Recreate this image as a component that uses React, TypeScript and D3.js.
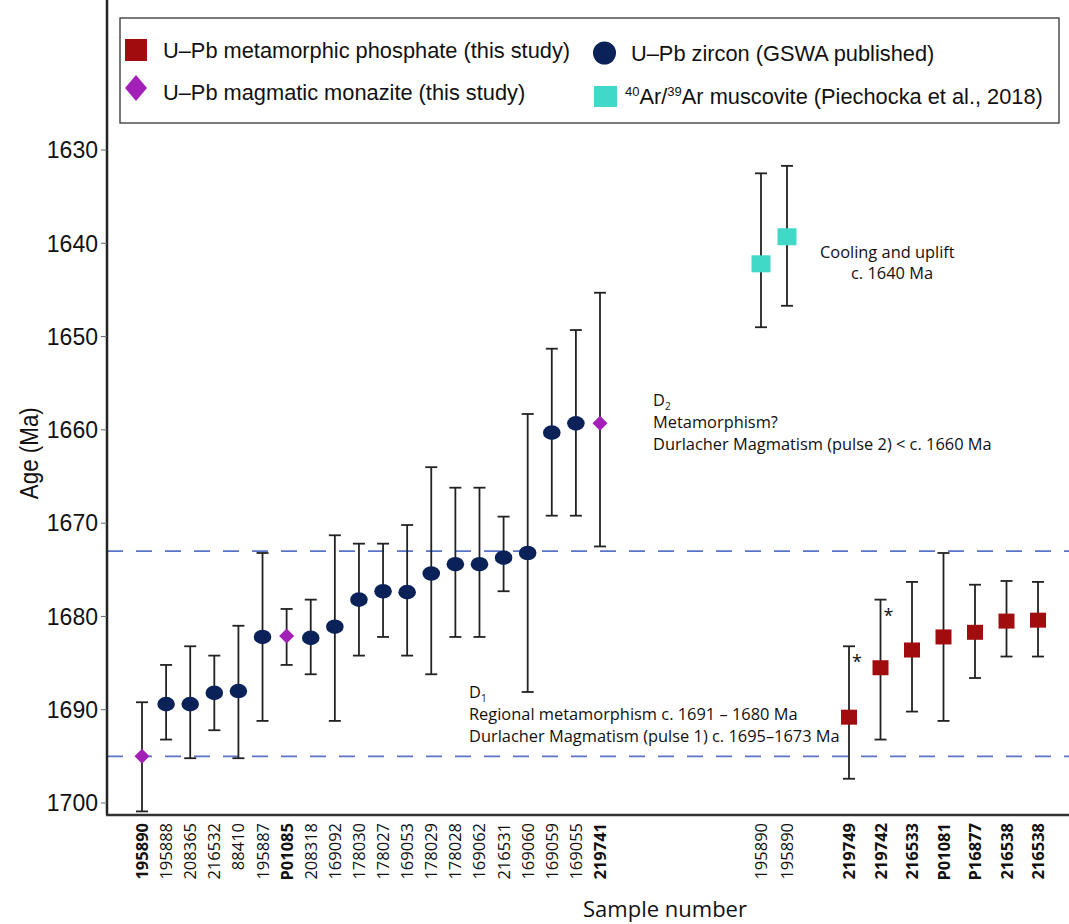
import React, { useEffect, useRef } from 'react';
import * as d3 from 'd3';

// Samples along the x axis, left group (U-Pb zircon + magmatic monazite)
const group1Samples = [
  '195890', '195888', '208365', '216532', '88410', '195887', 'P01085', '208318',
  '169092', '178030', '178027', '169053', '178029', '178028', '169062', '216531',
  '169060', '169059', '169055', '219741'
];
const group1Types = [
  'monazite', 'zircon', 'zircon', 'zircon', 'zircon', 'zircon', 'monazite', 'zircon',
  'zircon', 'zircon', 'zircon', 'zircon', 'zircon', 'zircon', 'zircon', 'zircon',
  'zircon', 'zircon', 'zircon', 'monazite'
];
const group1Age = [
  1695, 1689.4, 1689.4, 1688.2, 1688, 1682.2, 1682.1, 1682.3,
  1681.1, 1678.2, 1677.3, 1677.4, 1675.4, 1674.4, 1674.4, 1673.7,
  1673.2, 1660.3, 1659.3, 1659.3
];
const group1Min = [
  1689.2, 1685.2, 1683.2, 1684.2, 1681, 1673.2, 1679.2, 1678.2,
  1671.3, 1672.2, 1672.2, 1670.2, 1664, 1666.2, 1666.2, 1669.3,
  1658.3, 1651.3, 1649.3, 1645.3
];
const group1Max = [
  1700.9, 1693.2, 1695.2, 1692.2, 1695.2, 1691.2, 1685.2, 1686.2,
  1691.2, 1684.2, 1682.2, 1684.2, 1686.2, 1682.2, 1682.2, 1677.3,
  1688.1, 1669.2, 1669.2, 1672.5
];

// 40Ar/39Ar muscovite
const musSamples = ['195890', '195890'];
const musAge = [1642.2, 1639.3];
const musMin = [1632.5, 1631.7];
const musMax = [1649, 1646.7];

// U-Pb metamorphic phosphate
const phosSamples = ['219749', '219742', '216533', 'P01081', 'P16877', '216538', '216538'];
const phosAge = [1690.8, 1685.5, 1683.6, 1682.2, 1681.7, 1680.5, 1680.4];
const phosMin = [1683.2, 1678.2, 1676.3, 1673.2, 1676.6, 1676.2, 1676.3];
const phosMax = [1697.4, 1693.2, 1690.2, 1691.2, 1686.6, 1684.3, 1684.3];
const phosStar = [true, true, false, false, false, false, false];

const boldSamples = ['195890', 'P01085', '219741'];
const yTicks = [1630, 1640, 1650, 1660, 1670, 1680, 1690, 1700];
const eventLines = [1673, 1695];

const RED = '#a10d0f';
const PURPLE = '#a21fb8';
const NAVY = '#0b2258';
const CYAN = '#40d9c8';
const SANS = 'Liberation Sans, Arial, sans-serif';
const HUM = 'Open Sans, sans-serif';

const App: React.FC = () => {
  const svgRef = useRef<SVGSVGElement>(null);

  useEffect(() => {
    const svg = d3.select(svgRef.current);
    svg.selectAll('*').remove();

    const width = 1069;
    const height = 924;
    const axisX = 107;
    const axisBottom = 815;

    const y = d3.scaleLinear().domain([1630, 1700]).range([150, 803]);

    const x1 = d3.scalePoint<number>().domain(d3.range(group1Samples.length)).range([142, 600]);
    const x2 = d3.scalePoint<number>().domain(d3.range(musSamples.length)).range([761, 787]);
    const x3 = d3.scalePoint<number>().domain(d3.range(phosSamples.length)).range([849, 1038]);

    svg.attr('width', width).attr('height', height);

    // dashed event lines
    svg.append('g')
      .selectAll('line')
      .data(eventLines)
      .enter().append('line')
      .attr('x1', axisX)
      .attr('x2', width)
      .attr('y1', d => y(d))
      .attr('y2', d => y(d))
      .style('stroke', '#5a74c8')
      .style('stroke-width', 1.8)
      .style('stroke-dasharray', '16,13');

    // axes lines
    svg.append('line')
      .attr('x1', axisX).attr('x2', axisX)
      .attr('y1', 0).attr('y2', axisBottom)
      .style('stroke', '#222').style('stroke-width', 2.5);
    svg.append('line')
      .attr('x1', axisX - 1).attr('x2', width)
      .attr('y1', axisBottom).attr('y2', axisBottom)
      .style('stroke', '#333').style('stroke-width', 2.5);

    // y ticks
    const yt = svg.append('g');
    yt.selectAll('line')
      .data(yTicks)
      .enter().append('line')
      .attr('x1', axisX - 6).attr('x2', axisX)
      .attr('y1', d => y(d)).attr('y2', d => y(d))
      .style('stroke', '#666').style('stroke-width', 1);
    yt.selectAll('text')
      .data(yTicks)
      .enter().append('text')
      .attr('x', axisX - 9)
      .attr('y', d => y(d))
      .attr('dy', '0.36em')
      .attr('text-anchor', 'end')
      .style('font-family', SANS)
      .style('font-size', '23px')
      .style('fill', '#111')
      .text(d => d);

    svg.append('text')
      .attr('transform', `translate(38, ${y(1662.5)}) rotate(-90)`)
      .attr('text-anchor', 'middle')
      .attr('textLength', 92)
      .attr('lengthAdjust', 'spacingAndGlyphs')
      .style('font-family', SANS)
      .style('font-size', '25px')
      .style('fill', '#111')
      .text('Age (Ma)');

    // x labels
    const labels: { x: number; t: string }[] = [
      ...group1Samples.map((t, i) => ({ x: x1(i)!, t })),
      ...musSamples.map((t, i) => ({ x: x2(i)!, t })),
      ...phosSamples.map((t, i) => ({ x: x3(i)!, t }))
    ];
    const boldSet = new Set<number>();
    group1Samples.forEach((t, i) => { if (boldSamples.includes(t)) boldSet.add(i); });
    phosSamples.forEach((t, i) => boldSet.add(group1Samples.length + musSamples.length + i));

    svg.append('g')
      .selectAll('text')
      .data(labels)
      .enter().append('text')
      .attr('transform', d => `translate(${d.x + 6}, 823) rotate(-90)`)
      .attr('text-anchor', 'end')
      .style('font-family', HUM)
      .style('font-size', '16.5px')
      .style('font-weight', (d, i) => boldSet.has(i) ? 700 : 400)
      .style('fill', '#111')
      .text(d => d.t);

    svg.append('text')
      .attr('x', 665)
      .attr('y', 917)
      .attr('text-anchor', 'middle')
      .style('font-family', HUM)
      .style('font-size', '22px')
      .style('fill', '#111')
      .text('Sample number');

    // error bars
    const drawBars = (xs: number[], mins: number[], maxs: number[]) => {
      const g = svg.append('g').style('stroke', '#222').style('stroke-width', 1.8);
      xs.forEach((xv, i) => {
        g.append('line').attr('x1', xv).attr('x2', xv).attr('y1', y(mins[i])).attr('y2', y(maxs[i]));
        g.append('line').attr('x1', xv - 6).attr('x2', xv + 6).attr('y1', y(mins[i])).attr('y2', y(mins[i]));
        g.append('line').attr('x1', xv - 6).attr('x2', xv + 6).attr('y1', y(maxs[i])).attr('y2', y(maxs[i]));
      });
    };
    const xs1 = group1Samples.map((_, i) => x1(i)!);
    const xs2 = musSamples.map((_, i) => x2(i)!);
    const xs3 = phosSamples.map((_, i) => x3(i)!);
    drawBars(xs1, group1Min, group1Max);
    drawBars(xs2, musMin, musMax);
    drawBars(xs3, phosMin, phosMax);

    // group 1 markers
    const m1 = svg.append('g');
    group1Age.forEach((a, i) => {
      if (group1Types[i] === 'zircon') {
        m1.append('ellipse')
          .attr('cx', xs1[i]).attr('cy', y(a))
          .attr('rx', 8.8).attr('ry', 7.3)
          .style('fill', NAVY);
      } else {
        const s = 7.5;
        m1.append('path')
          .attr('d', `M${xs1[i]},${y(a) - s}L${xs1[i] + s},${y(a)}L${xs1[i]},${y(a) + s}L${xs1[i] - s},${y(a)}Z`)
          .style('fill', PURPLE);
      }
    });

    svg.append('g')
      .selectAll('rect')
      .data(musAge)
      .enter().append('rect')
      .attr('x', (d, i) => xs2[i] - 9.5)
      .attr('y', d => y(d) - 8.5)
      .attr('width', 19).attr('height', 17)
      .style('fill', CYAN);

    svg.append('g')
      .selectAll('rect')
      .data(phosAge)
      .enter().append('rect')
      .attr('x', (d, i) => xs3[i] - 8)
      .attr('y', d => y(d) - 7.5)
      .attr('width', 16).attr('height', 15)
      .style('fill', RED);

    svg.append('g')
      .selectAll('text')
      .data(phosMin.filter((_, i) => phosStar[i]))
      .enter().append('text')
      .attr('x', (d, i) => xs3[i] + 3)
      .attr('y', d => y(d) + 22)
      .style('font-family', HUM)
      .style('font-size', '18px')
      .style('fill', '#111')
      .text('*');

    // annotations
    const note = (xv: number, yv: number, lines: (string | [string, string])[]) => {
      const t = svg.append('text')
        .style('font-family', HUM)
        .style('font-size', '16.4px')
        .style('fill', '#111');
      lines.forEach((l, i) => {
        if (typeof l === 'string') {
          t.append('tspan').attr('x', xv).attr('y', yv + i * 22).text(l);
        } else {
          t.append('tspan').attr('x', xv).attr('y', yv + i * 22).text(l[0]);
          t.append('tspan').attr('dy', 4).style('font-size', '10px').text(l[1]);
        }
      });
    };
    note(820, 258, ['Cooling and uplift']);
    note(851, 279, ['c. 1640 Ma']);
    note(653, 406, [['D', '2'], 'Metamorphism?', 'Durlacher Magmatism (pulse 2) < c. 1660 Ma']);
    note(469, 698, [['D', '1'], 'Regional metamorphism c. 1691 – 1680 Ma', 'Durlacher Magmatism (pulse 1) c. 1695–1673 Ma']);

    // legend
    const lg = svg.append('g');
    lg.append('rect')
      .attr('x', 120).attr('y', 18).attr('width', 939).attr('height', 105)
      .style('fill', '#fff').style('stroke', '#333').style('stroke-width', 1.3);
    lg.append('rect').attr('x', 125).attr('y', 39).attr('width', 22).attr('height', 22).style('fill', RED);
    lg.append('path').attr('d', 'M136,75L147,88L136,101L125,88Z').style('fill', PURPLE);
    lg.append('circle').attr('cx', 604.5).attr('cy', 53).attr('r', 11.5).style('fill', NAVY);
    lg.append('rect').attr('x', 594).attr('y', 86).attr('width', 23).attr('height', 21).style('fill', CYAN);

    const legText = (xv: number, yv: number) => lg.append('text')
      .attr('x', xv).attr('y', yv)
      .style('font-family', SANS)
      .style('font-size', '21.8px')
      .style('fill', '#111');
    legText(163, 58).text('U–Pb metamorphic phosphate (this study)');
    legText(163, 100).text('U–Pb magmatic monazite (this study)');
    legText(631, 61).text('U–Pb zircon (GSWA published)');
    const ar = legText(625, 104);
    ar.append('tspan').attr('dy', -8).style('font-size', '13px').text('40');
    ar.append('tspan').attr('dy', 8).text('Ar/');
    ar.append('tspan').attr('dy', -8).style('font-size', '13px').text('39');
    ar.append('tspan').attr('dy', 8).text('Ar muscovite (Piechocka et al., 2018)');
  }, []);

  return (
    <div style={{ position: 'absolute', left: 0, top: 0, background: '#fff' }}>
      <svg ref={svgRef}></svg>
    </div>
  );
};

export default App;
